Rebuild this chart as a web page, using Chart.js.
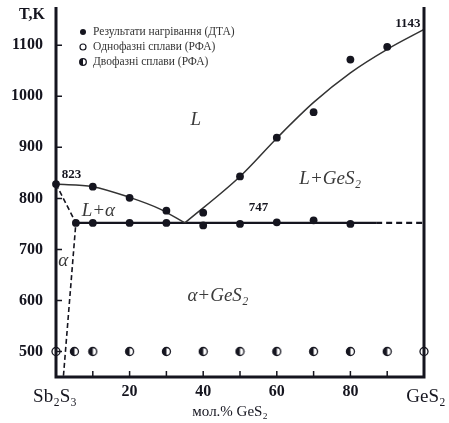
<!DOCTYPE html>
<html>
<head>
<meta charset="utf-8">
<script src="https://cdn.jsdelivr.net/npm/chart.js@4.4.1/dist/chart.umd.min.js"></script>
<style>
    html, body { margin: 0; padding: 0; background: #fff; }
    #wrap { width: 449px; height: 423px; }
</style>
</head>
<body>
<div id="wrap"><canvas id="phaseChart" width="449" height="423"></canvas></div>
<script>
// x = мол.% GeS2, y = T, K
const dtaX = [0, 10, 20, 30, 40, 50, 60, 70, 80, 90, 5.4, 10, 20, 30, 40, 50, 60, 70, 80]
const dtaT = [828, 823, 801, 776, 772, 843, 919, 969, 1072, 1097, 752, 752, 752, 752, 747, 750, 753, 757, 750]

const singlePhaseX = [0, 100]
const singlePhaseT = [500, 500]

const twoPhaseX = [5, 10, 20, 30, 40, 50, 60, 70, 80, 90]
const twoPhaseT = [500, 500, 500, 500, 500, 500, 500, 500, 500, 500]

const liquidusLeftX = [0, 10, 20, 28, 35]
const liquidusLeftT = [828, 823, 802, 780, 752]
const liquidusRightX = [35, 50, 60, 70, 80, 90, 100]
const liquidusRightT = [752, 843, 918, 988, 1046, 1092, 1131]

const eutecticSolidX = [5.4, 87]
const eutecticDashX = [87, 100]
const eutecticT = 752

const solvusX = [0, 5.4, 2]
const solvusT = [828, 752, 450]

const xTicks = [0, 10, 20, 30, 40, 50, 60, 70, 80, 90, 100]
const xTickLabels = {0: 'Sb₂S₃', 20: '20', 40: '40', 60: '60', 80: '80', 100: 'GeS₂'}
const yTicks = [500, 600, 700, 800, 900, 1000, 1100]

const regionLabels = [
    {text: 'L', x: 38, t: 953},
    {text: 'L+GeS₂', x: 74.5, t: 837},
    {text: 'L+α', x: 11.5, t: 776},
    {text: 'α', x: 2, t: 678},
    {text: 'α+GeS₂', x: 44, t: 608}
]
const valueLabels = [
    {text: '823', x: 4.2, t: 847},
    {text: '747', x: 55, t: 781},
    {text: '1143', x: 95.6, t: 1143}
]
const legendItems = ['Результати нагрівання (ДТА)', 'Однофазні сплави (РФА)', 'Двофазні сплави (РФА)']

const ink = '#15151f'
const serif = '"Liberation Serif", "DejaVu Serif", serif'

function pairs(xs, ys){
    return xs.map((x, i) => ({x, y: Array.isArray(ys) ? ys[i] : ys}))
}

function drawHalfCircle(ctx, cx, cy, r){
    ctx.beginPath()
    ctx.arc(cx, cy, r, 0, Math.PI * 2)
    ctx.fillStyle = '#fff'
    ctx.fill()
    ctx.beginPath()
    ctx.arc(cx, cy, r, Math.PI / 2, Math.PI * 1.5)
    ctx.closePath()
    ctx.fillStyle = ink
    ctx.fill()
    ctx.beginPath()
    ctx.arc(cx, cy, r, 0, Math.PI * 2)
    ctx.lineWidth = 1.3
    ctx.strokeStyle = ink
    ctx.stroke()
}

const halfMarker = document.createElement('canvas')
halfMarker.width = 11
halfMarker.height = 11
drawHalfCircle(halfMarker.getContext('2d'), 5.5, 5.5, 4)

const framePlugin = {
    id: 'frame',
    afterDatasetsDraw(chart){
        const {ctx, scales: {x, y}, chartArea: a} = chart
        ctx.save()
        ctx.strokeStyle = ink
        ctx.lineWidth = 3
        ctx.beginPath()
        ctx.moveTo(a.left, a.top)
        ctx.lineTo(a.left, a.bottom)
        ctx.lineTo(a.right, a.bottom)
        ctx.lineTo(a.right, a.top)
        ctx.stroke()

        ctx.lineWidth = 1.5
        ctx.beginPath()
        xTicks.forEach(v => {
            const px = x.getPixelForValue(v)
            if (v > 0 && v < 100){
                ctx.moveTo(px, a.bottom)
                ctx.lineTo(px, a.bottom - 6)
            }
        })
        yTicks.forEach(v => {
            const py = y.getPixelForValue(v)
            ctx.moveTo(a.left, py)
            ctx.lineTo(a.left + 6, py)
        })
        ctx.stroke()

        ctx.fillStyle = ink
        ctx.font = `bold 16px ${serif}`
        ctx.textAlign = 'right'
        ctx.textBaseline = 'middle'
        yTicks.forEach(v => ctx.fillText(String(v), a.left - 13, y.getPixelForValue(v)))
        ctx.fillText('T,K', 45, 15)

        ctx.textAlign = 'center'
        xTicks.forEach(v => {
            if (!xTickLabels[v]) return
            const isEnd = v === 0 || v === 100
            ctx.font = isEnd ? `19px ${serif}` : `bold 16px ${serif}`
            const px = v === 0 ? 55 : (v === 100 ? 426 : x.getPixelForValue(v))
            ctx.fillText(xTickLabels[v], px, isEnd ? 397 : 392)
        })
        ctx.font = `15px ${serif}`
        ctx.fillText('мол.% GeS₂', 230, 412)

        ctx.fillStyle = '#3a3a3a'
        ctx.font = `italic 19px ${serif}`
        regionLabels.forEach(l => ctx.fillText(l.text, x.getPixelForValue(l.x), y.getPixelForValue(l.t)))

        ctx.fillStyle = ink
        ctx.font = `bold 13px ${serif}`
        valueLabels.forEach(l => ctx.fillText(l.text, x.getPixelForValue(l.x), y.getPixelForValue(l.t)))

        ctx.textAlign = 'left'
        ctx.font = `11.5px ${serif}`
        legendItems.forEach((text, i) => {
            const ly = 32 + i * 15
            if (i === 0){
                ctx.beginPath()
                ctx.arc(83, ly, 3, 0, Math.PI * 2)
                ctx.fillStyle = ink
                ctx.fill()
            } else if (i === 1){
                ctx.beginPath()
                ctx.arc(83, ly, 3, 0, Math.PI * 2)
                ctx.lineWidth = 1.2
                ctx.strokeStyle = ink
                ctx.stroke()
            } else {
                drawHalfCircle(ctx, 83, ly, 3.3)
            }
            ctx.fillStyle = '#333'
            ctx.fillText(text, 93, ly)
        })
        ctx.restore()
    }
}

const lineStyle = {showLine: true, pointRadius: 0, borderColor: '#333', borderWidth: 1.5, fill: false, order: 2, clip: false}

new Chart(document.getElementById('phaseChart').getContext('2d'), {
    type: 'scatter',
    data: {
        datasets: [
            {...lineStyle, data: pairs(liquidusLeftX, liquidusLeftT), cubicInterpolationMode: 'monotone'},
            {...lineStyle, data: pairs(liquidusRightX, liquidusRightT), cubicInterpolationMode: 'monotone'},
            {...lineStyle, data: pairs(eutecticSolidX, eutecticT), borderColor: ink, borderWidth: 2.2},
            {...lineStyle, data: pairs(eutecticDashX, eutecticT), borderColor: ink, borderWidth: 2.2, borderDash: [6, 4]},
            {...lineStyle, data: pairs(solvusX, solvusT), borderColor: ink, borderWidth: 1.6, borderDash: [5, 3]},
            {data: pairs(dtaX, dtaT), pointRadius: 3.9, backgroundColor: ink, borderColor: ink, borderWidth: 0, order: 0, clip: false},
            {data: pairs(singlePhaseX, singlePhaseT), pointRadius: 4, backgroundColor: '#fff', borderColor: ink, borderWidth: 1.3, order: 0, clip: false},
            {data: pairs(twoPhaseX, twoPhaseT), pointStyle: halfMarker, order: 0, clip: false}
        ]
    },
    options: {
        responsive: false,
        devicePixelRatio: 1,
        animation: false,
        layout: {padding: {left: 56, right: 25, top: 7, bottom: 46}},
        scales: {
            x: {type: 'linear', min: 0, max: 100, display: false},
            y: {type: 'linear', min: 450, max: 1175, display: false}
        },
        plugins: {
            legend: {display: false},
            tooltip: {enabled: false}
        }
    },
    plugins: [framePlugin]
})
</script>
</body>
</html>
